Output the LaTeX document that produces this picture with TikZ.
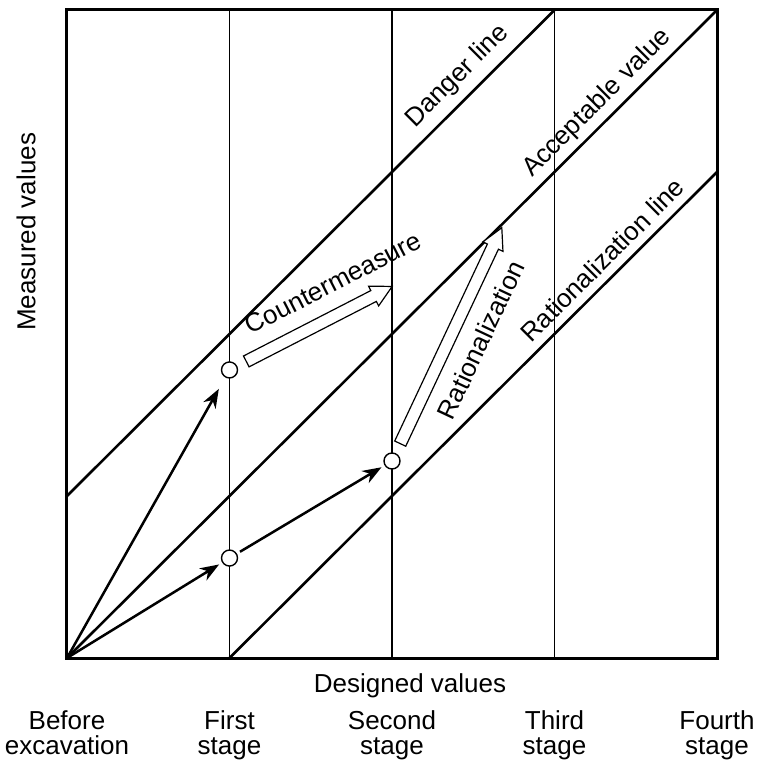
\documentclass[tikz,border=0pt]{standalone}
\usepackage{fontspec}
\setmainfont{Liberation Sans}
\usepackage{tikz}
\usetikzlibrary{positioning,shapes,arrows.meta}

\begin{document}
\begin{tikzpicture}[x=162.5pt, y=162pt, font=\fontsize{26pt}{25.5pt}\selectfont,
    frame/.style = {line width=3pt},
    stageline/.style = {line width=1.5pt},
    limitline/.style = {line width=2.6pt},
    obs/.style = {circle, draw, line width=1.4pt, fill=white, minimum size=16pt, inner sep=0pt},
    trend/.style = {line width=2.5pt, -{Stealth[length=19pt, width=14pt, inset=6pt]}, shorten >=3.5pt},
    hollow/.style = {single arrow, draw, line width=1.2pt, fill=white, inner xsep=0pt, inner ysep=5.5pt,
        minimum width=21pt, single arrow head extend=5pt, single arrow tip angle=56, anchor=tail},
    lbl/.style = {inner sep=0pt}]
\useasboundingbox (-0.4123,-0.6296) rectangle (4.2462,4.0617);
\foreach \x in {1,2,3}
    \draw[stageline] (\x,0) -- (\x,4);
\draw[limitline] (0,1) -- node[lbl, pos=0.832, sloped, above=8pt] {Danger line} (3,4);
\draw[limitline] (0,0) -- node[lbl, pos=0.836, sloped, above=5pt] {Acceptable value} (4,4);
\draw[limitline] (1,0) -- node[lbl, pos=0.792, sloped, above=8pt] {Rationalization line} (4,3);
\draw[frame] (0,0) rectangle (4,4);
\node[lbl, rotate=90] (meas) at (-0.252,2.63) {Measured values};
\node[lbl, anchor=base] (design) at (2.111,-0.21) {Designed values};
\foreach \x/\txt in {0/{Before\\excavation}, 1/{First\\stage}, 2/{Second\\stage}, 3/{Third\\stage}, 4/{Fourth\\stage}}
    \node[lbl, align=center, anchor=north] (s\x) at (\x,-0.322) {\txt};
% measured points
\coordinate (o) at (0,0);
\node[obs] (c1) at (1,1.778) {};
\node[obs] (c2) at (1,0.617) {};
\node[obs] (c3) at (2,1.216) {};
\draw[trend, shorten >=13pt] (o) -- (c1);
\draw[trend] (o) -- (c2);
\draw[trend, shorten <=3.5pt] (c2) -- (c3);
\node[hollow, minimum height=164pt, rotate=27.2] (cm) at (1.100,1.829) {};
\path (cm.tail) -- node[lbl, pos=0.685, sloped, above=21pt] {Countermeasure} (cm.tip);
\node[hollow, minimum height=238.6pt, rotate=64.8] (ra) at (2.049,1.320) {};
\path (ra.tail) -- node[lbl, pos=0.535, sloped, below=19pt] {Rationalization} (ra.tip);
\end{tikzpicture}
\end{document}
